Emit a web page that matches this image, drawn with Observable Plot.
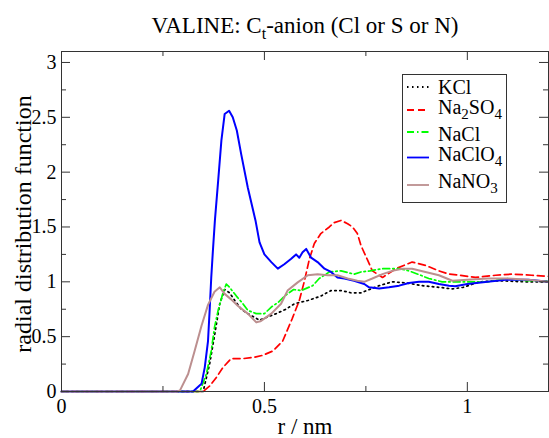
<!DOCTYPE html>
<html><head><meta charset="utf-8">
<script src="https://cdn.jsdelivr.net/npm/d3@7"></script>
<script src="https://cdn.jsdelivr.net/npm/@observablehq/plot@0.6"></script>
<style>
html,body{margin:0;padding:0;background:#fff;overflow:hidden;}
#wrap{position:relative;width:549px;height:438px;font-family:"Liberation Serif","Tinos","Times New Roman","DejaVu Serif",serif;color:#000;}
.lbl{position:absolute;white-space:nowrap;line-height:1;}
</style></head>
<body><div id="wrap"></div>
<script>
// ---- data (r in nm, g(r)) ----
const kclR = [0,0.349,0.365,0.378,0.39,0.402,0.414,0.427,0.443,0.459,0.488,0.508,0.529,0.553,0.574,0.607,0.639,0.664,0.69,0.713,0.738,0.783,0.815,0.85,0.889,0.93,0.963,0.99,1.03,1.08,1.14,1.2];
const kclG = [0,0,0.25,0.53,0.80,0.93,0.90,0.83,0.75,0.71,0.65,0.68,0.71,0.75,0.80,0.83,0.87,0.92,0.92,0.90,0.90,0.965,1.0,0.99,0.965,0.95,0.935,0.95,1.0,1.01,1.0,1.0];

const so4R = [0,0.349,0.365,0.382,0.398,0.418,0.447,0.472,0.496,0.521,0.545,0.568,0.586,0.598,0.611,0.623,0.639,0.66,0.672,0.689,0.705,0.717,0.729,0.738,0.754,0.766,0.791,0.824,0.864,0.897,0.93,0.955,0.98,1.02,1.07,1.11,1.159,1.2];
const so4G = [0,0,0.05,0.13,0.22,0.30,0.30,0.31,0.33,0.37,0.46,0.66,0.83,1.0,1.21,1.35,1.44,1.50,1.54,1.56,1.53,1.50,1.44,1.33,1.20,1.10,1.04,1.12,1.18,1.15,1.10,1.07,1.06,1.04,1.06,1.07,1.06,1.05];

const naclR = [0,0.341,0.357,0.369,0.377,0.386,0.398,0.406,0.414,0.431,0.447,0.459,0.48,0.5,0.517,0.533,0.553,0.572,0.59,0.619,0.635,0.66,0.689,0.721,0.738,0.76,0.791,0.832,0.856,0.885,0.905,0.938,0.97,1.0,1.05,1.1,1.14,1.2];
const naclG = [0,0,0.16,0.37,0.585,0.74,0.90,0.98,0.95,0.87,0.80,0.74,0.71,0.71,0.77,0.81,0.88,0.93,0.92,0.965,1.03,1.09,1.10,1.07,1.09,1.10,1.12,1.12,1.10,1.06,1.03,1.0,1.0,1.0,1.0,1.03,1.01,1.01];

const clo4R = [0,0.324,0.345,0.353,0.361,0.365,0.369,0.373,0.378,0.386,0.394,0.402,0.413,0.422,0.432,0.443,0.459,0.478,0.488,0.5,0.517,0.533,0.549,0.566,0.578,0.586,0.594,0.603,0.615,0.631,0.648,0.664,0.68,0.697,0.721,0.746,0.758,0.783,0.807,0.832,0.856,0.881,0.905,0.93,0.955,0.97,1.0,1.05,1.1,1.15,1.2];
const clo4G = [0,0,0.07,0.22,0.46,0.74,1.04,1.28,1.56,1.92,2.29,2.53,2.56,2.50,2.38,2.16,1.86,1.56,1.36,1.25,1.18,1.12,1.16,1.21,1.25,1.22,1.27,1.30,1.22,1.18,1.12,1.09,1.04,1.03,1.01,0.98,0.95,0.94,0.95,0.965,0.99,1.0,1.0,0.98,0.965,0.96,0.98,1.0,1.02,1.02,1.0];

const no3R = [0,0.285,0.292,0.312,0.328,0.345,0.361,0.377,0.39,0.402,0.418,0.435,0.459,0.48,0.49,0.517,0.541,0.557,0.582,0.607,0.631,0.656,0.68,0.705,0.729,0.746,0.766,0.791,0.815,0.84,0.864,0.897,0.93,0.963,1.0,1.05,1.1,1.15,1.2];
const no3G = [0,0,0.01,0.16,0.37,0.60,0.79,0.91,0.95,0.89,0.84,0.78,0.71,0.63,0.64,0.71,0.80,0.92,0.995,1.06,1.07,1.06,1.06,1.03,1.01,1.0,1.03,1.07,1.10,1.12,1.12,1.09,1.06,1.01,1.02,1.03,1.03,1.02,1.0];

const seriesNames = ["KCl","Na2SO4","NaCl","NaClO4","NaNO3"];
const seriesR = [kclR, so4R, naclR, clo4R, no3R];
const seriesG = [kclG, so4G, naclG, clo4G, no3G];
const seriesColors = ["#000000","#ff0000","#00ff00","#0000ff","#bc8f8f"];
const seriesDash = ["1.5,3.5","7,4","7,3,1.5,3",null,null];

const xMajor = [0,0.5,1];
const xMinor = [0.25,0.75];
const xTickLabels = ["0","0.5","1"];
const yMajor = [0,0.5,1,1.5,2,2.5,3];
const yMinor = [0.25,0.75,1.25,1.75,2.25,2.75];
const yTickLabels = ["0","0.5","1","1.5","2","2.5","3"];

// ---- layout ----
const W = 549, H = 438, mL = 61, mR = 1, mT = 51, mB = 47;
const pW = W - mL - mR, pH = H - mT - mB;
const font = "'Liberation Serif','Tinos','Times New Roman','DejaVu Serif',serif";

const lineMarks = seriesNames.map((name, i) => {
  const data = seriesR[i].map((r, j) => ({r, g: seriesG[i][j]}));
  const opts = {x: "r", y: "g", stroke: seriesColors[i], strokeWidth: 1.7, strokeLinejoin: "round"};
  if (seriesDash[i]) opts.strokeDasharray = seriesDash[i];
  if (i === 3 || i === 4) opts.strokeWidth = 2;
  return Plot.line(data, opts);
});

const chart = Plot.plot({
  width: W, height: H,
  marginLeft: mL, marginRight: mR, marginTop: mT, marginBottom: mB,
  style: {fontFamily: font, background: "#fff", overflow: "visible"},
  x: {domain: [0, 1.2]},
  y: {domain: [0, 3.1]},
  marks: [
    ...lineMarks,
    Plot.frame({stroke: "#333", strokeWidth: 1}),
    Plot.tickX(xMajor, {x: d => d, insetTop: pH - 9, stroke: "#333"}),
    Plot.tickX(xMinor, {x: d => d, insetTop: pH - 5, stroke: "#333"}),
    Plot.tickX(xMajor, {x: d => d, insetBottom: pH - 9, stroke: "#333"}),
    Plot.tickX(xMinor, {x: d => d, insetBottom: pH - 5, stroke: "#333"}),
    Plot.tickY(yMajor, {y: d => d, insetRight: pW - 9, stroke: "#333"}),
    Plot.tickY(yMinor, {y: d => d, insetRight: pW - 5, stroke: "#333"}),
    Plot.tickY(yMajor, {y: d => d, insetLeft: pW - 9, stroke: "#333"}),
    Plot.tickY(yMinor, {y: d => d, insetLeft: pW - 5, stroke: "#333"}),
    Plot.axisX({ticks: xMajor, tickSize: 0, tickPadding: 7, fontSize: 20, label: null,
      tickFormat: d => xTickLabels[xMajor.indexOf(d)], fill: "#000"}),
    Plot.axisY({ticks: yMajor, tickSize: 0, tickPadding: 5, fontSize: 20, label: null,
      tickFormat: d => yTickLabels[yMajor.indexOf(d)], fill: "#000"})
  ]
});

const wrap = document.getElementById("wrap");
wrap.appendChild(chart);

// title & axis labels
const title = document.createElement("div");
title.className = "lbl";
title.style.cssText = "left:305px;top:14px;transform:translateX(-50%);font-size:23px;";
title.innerHTML = 'VALINE: C<sub style="font-size:16px;vertical-align:-6px;line-height:0">t</sub>-anion (Cl or S or N)';
wrap.appendChild(title);

const xl = document.createElement("div");
xl.className = "lbl";
xl.style.cssText = "left:305px;top:415px;transform:translateX(-50%);font-size:23px;";
xl.textContent = "r / nm";
wrap.appendChild(xl);

const yl = document.createElement("div");
yl.className = "lbl";
yl.style.cssText = "left:23px;top:224px;transform:translate(-50%,-50%) rotate(-90deg);font-size:24px;";
yl.textContent = "radial distribution function";
wrap.appendChild(yl);

// legend
const legLabels = [
  [["KCl",0]],
  [["Na",0],["2",1],["SO",0],["4",1]],
  [["NaCl",0]],
  [["NaClO",0],["4",1]],
  [["NaNO",0],["3",1]]
];
const legLineY = [87, 110, 132, 157.5, 185];
const legBase = [94, 114, 141, 161, 188];
const ns = "http://www.w3.org/2000/svg";
const leg = document.createElementNS(ns, "svg");
leg.setAttribute("width", W); leg.setAttribute("height", H);
leg.style.cssText = "position:absolute;left:0;top:0;pointer-events:none;";
let s = '<rect x="402.5" y="74.5" width="104" height="128" fill="#fff" stroke="#333" stroke-width="1"/>';
legLabels.forEach((parts, i) => {
  const dash = seriesDash[i] ? ` stroke-dasharray="${seriesDash[i]}"` : "";
  s += `<line x1="407" x2="429" y1="${legLineY[i]}" y2="${legLineY[i]}" stroke="${seriesColors[i]}" stroke-width="1.8"${dash}/>`;
  let t = `<text x="438" y="${legBase[i]}" font-family="${font}" font-size="20" fill="#000">`;
  let sub = 0;
  parts.forEach(([txt, isSub]) => {
    if (isSub && !sub) { t += `<tspan dy="5" font-size="15">${txt}</tspan>`; sub = 1; }
    else if (!isSub && sub) { t += `<tspan dy="-5" font-size="20">${txt}</tspan>`; sub = 0; }
    else if (isSub) { t += `<tspan font-size="15">${txt}</tspan>`; }
    else { t += `<tspan>${txt}</tspan>`; }
  });
  t += "</text>";
  s += t;
});
leg.innerHTML = s;
wrap.appendChild(leg);
</script>
</body></html>
